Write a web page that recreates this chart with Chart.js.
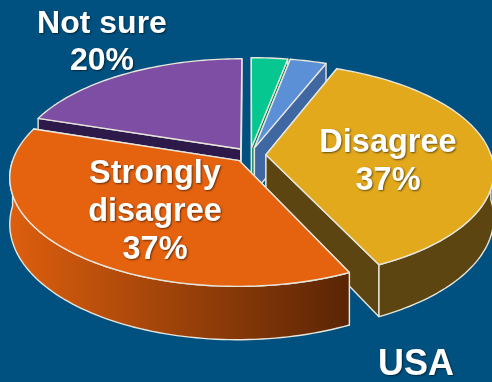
<!DOCTYPE html>
<html>
<head>
<meta charset="utf-8">
<title>USA</title>
<script src="https://cdn.jsdelivr.net/npm/chart.js@4/dist/chart.umd.min.js"></script>
<style>
  html, body { margin: 0; padding: 0; background: #00517f; overflow: hidden; }
  #wrap { position: relative; width: 492px; height: 382px; }
</style>
</head>
<body>
<div id="wrap"><canvas id="pieChart"></canvas></div>
<script>
const categories = ["Strongly agree", "Agree", "Disagree", "Strongly disagree", "Not sure"];
const shares = [3, 3, 37, 37, 20];
const sliceColors = ["#05c78f", "#5b8fd6", "#e2a91c", "#e5620f", "#7d4ea3"];
const wallColors = ["#04805c", "#3f68a3", "#5c4510", "#5a2505", "#2e1a4a"];
const drawOrder = [4, 0, 1, 2, 3];

// tilted view of the pie: 1 = pie radius in the plane, z goes down through the thickness
const view = { cx: 250, cy: 155, size: 225, dist: 6.75, tilt: 0.468, depth: 0.2 };

function project(px, py, pz) {
  const s = view.size * view.dist / (view.dist - py);
  return { x: view.cx + px * s, y: view.cy + (py * view.tilt + pz * view.depth) * s };
}

function rimPoint(slice, angle, pz) {
  return project(slice.ox + Math.sin(angle), slice.oy - Math.cos(angle), pz);
}

function sliceGeometry(arc) {
  const a0 = arc.startAngle + Math.PI / 2;
  const a1 = arc.endAngle + Math.PI / 2;
  const mid = (a0 + a1) / 2;
  const off = arc.options.offset / arc.outerRadius;
  return { a0, a1, ox: Math.sin(mid) * off, oy: -Math.cos(mid) * off };
}

function tracePoints(ctx, pts) {
  ctx.beginPath();
  pts.forEach((p, i) => (i ? ctx.lineTo(p.x, p.y) : ctx.moveTo(p.x, p.y)));
  ctx.closePath();
}

function arcPoints(slice, from, to, pz) {
  const pts = [];
  const steps = Math.max(4, Math.ceil(Math.abs(to - from) * 40));
  for (let i = 0; i <= steps; i++) {
    pts.push(rimPoint(slice, from + (to - from) * i / steps, pz));
  }
  return pts;
}

function paint(ctx, pts, fill) {
  tracePoints(ctx, pts);
  ctx.fillStyle = fill;
  ctx.fill();
  ctx.stroke();
}

function drawSlice(ctx, arc, i) {
  const slice = sliceGeometry(arc);
  const apexTop = project(slice.ox, slice.oy, 0);
  const apexLow = project(slice.ox, slice.oy, 1);

  // cut faces on both sides of the slice
  [slice.a0, slice.a1].forEach((a) => {
    paint(ctx, [apexTop, rimPoint(slice, a, 0), rimPoint(slice, a, 1), apexLow], wallColors[i]);
  });

  // outer wall, only the part turned to the viewer
  const from = Math.max(slice.a0, Math.PI / 2);
  const to = Math.min(slice.a1, Math.PI * 1.5);
  if (to > from) {
    let fill = wallColors[i];
    const top = arcPoints(slice, from, to, 0);
    const low = arcPoints(slice, to, from, 1);
    if (i === 3) {
      fill = ctx.createLinearGradient(top[top.length - 1].x, 0, top[0].x, 0);
      fill.addColorStop(0, "#dc5e0e");
      fill.addColorStop(1, "#5a2505");
    }
    paint(ctx, top.concat(low), fill);
  }

  // top face
  paint(ctx, [apexTop].concat(arcPoints(slice, slice.a0, slice.a1, 0)), sliceColors[i]);
}

function drawLabel(ctx, lines, x, y, size, gap) {
  ctx.font = "bold " + size + "px 'Liberation Sans', Arial, sans-serif";
  ctx.textAlign = "center";
  ctx.textBaseline = "middle";
  ctx.fillStyle = "#ffffff";
  ctx.shadowColor = "rgba(0,0,0,0.55)";
  ctx.shadowBlur = 2;
  ctx.shadowOffsetX = 1;
  ctx.shadowOffsetY = 1;
  lines.forEach((line, i) => ctx.fillText(line, x, y + i * gap));
  ctx.shadowColor = "transparent";
}

const tiltedPie = {
  id: "tiltedPie",
  beforeDatasetsDraw(chart) {
    const ctx = chart.ctx;
    const arcs = chart.getDatasetMeta(0).data;
    ctx.save();
    ctx.lineWidth = 1.4;
    ctx.lineJoin = "round";
    ctx.strokeStyle = "#e6e6dc";
    drawOrder.forEach((i) => drawSlice(ctx, arcs[i], i));
    ctx.restore();
    return false;
  },
  afterDraw(chart) {
    const ctx = chart.ctx;
    ctx.save();
    drawLabel(ctx, [categories[4], shares[4] + "%"], 102, 24, 32, 37);
    drawLabel(ctx, [categories[2], shares[2] + "%"], 388, 143, 32.5, 38);
    drawLabel(ctx, ["Strongly", "disagree", shares[3] + "%"], 155, 174, 32.5, 38);
    drawLabel(ctx, ["USA"], 416, 365, 36, 0);
    ctx.restore();
  }
};

new Chart(document.getElementById("pieChart"), {
  type: "pie",
  data: {
    labels: categories,
    datasets: [{ data: shares, backgroundColor: sliceColors, offset: 13 }]
  },
  options: {
    responsive: true,
    maintainAspectRatio: false,
    animation: false,
    plugins: { legend: { display: false }, tooltip: { enabled: false } }
  },
  plugins: [tiltedPie]
});
</script>
</body>
</html>
